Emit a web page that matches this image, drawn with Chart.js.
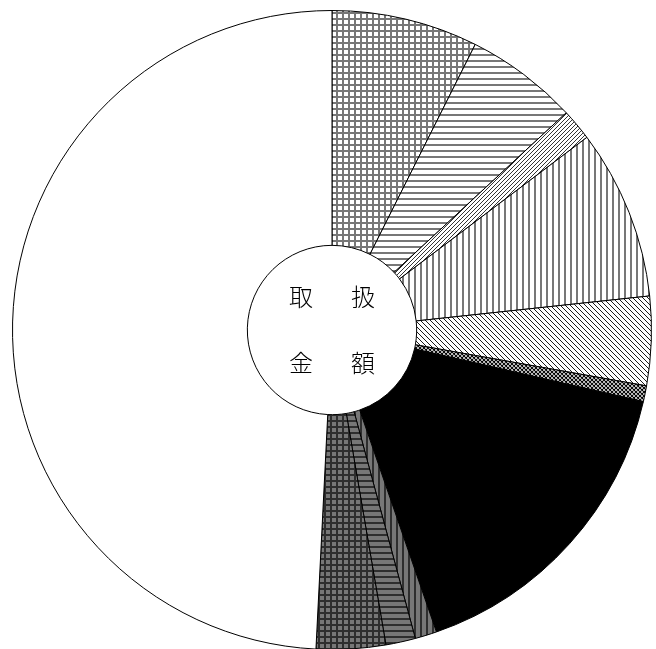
<!DOCTYPE html>
<html>
<head>
<meta charset="utf-8">
<script src="https://cdn.jsdelivr.net/npm/chart.js@4"></script>
<style>
  html, body { margin: 0; padding: 0; background: #fff; overflow: hidden; }
  #wrap { width: 656px; height: 660px; position: relative; }
</style>
</head>
<body>
<div id="wrap"><canvas id="chart"></canvas></div>
<script>
// slice names are not shown in the picture
const labels = ["A", "B", "C", "D", "E", "F", "G", "H", "I", "J", "K"];
// share of total (%), clockwise from 12 o'clock
const values = [7.4, 5.7, 1.6, 8.6, 4.5, 0.8, 16.1, 1.1, 1.5, 3.5, 49.2];
const centerText = [["取", "扱"], ["金", "額"]];

document.addEventListener("DOMContentLoaded", () => {
  function makePattern(size, bg, draw) {
    const c = document.createElement("canvas");
    c.width = size;
    c.height = size;
    const g = c.getContext("2d");
    g.fillStyle = bg;
    g.fillRect(0, 0, size, size);
    draw(g, size);
    return g.createPattern(c, "repeat");
  }

  const gray = "#777777";
  const dark = "#2e2e2e";

  const fills = [
    // grid, gray on white
    makePattern(6, "#fff", (g) => {
      g.fillStyle = gray;
      g.fillRect(0, 0, 2, 6);
      g.fillRect(0, 0, 6, 2);
    }),
    // horizontal lines
    makePattern(6, "#fff", (g) => {
      g.fillStyle = gray;
      g.fillRect(0, 0, 6, 2);
    }),
    // "/" thin black lines
    makePattern(4, "#fff", (g) => {
      g.strokeStyle = "#000";
      g.lineWidth = 0.8;
      g.beginPath();
      g.moveTo(-1, 5); g.lineTo(5, -1);
      g.moveTo(-1, 1); g.lineTo(1, -1);
      g.moveTo(3, 5); g.lineTo(5, 3);
      g.stroke();
    }),
    // vertical lines
    makePattern(6, "#fff", (g) => {
      g.fillStyle = gray;
      g.fillRect(0, 0, 2, 6);
    }),
    // "\" thin black lines
    makePattern(5, "#fff", (g) => {
      g.strokeStyle = "#000";
      g.lineWidth = 0.9;
      g.beginPath();
      g.moveTo(-1, -1); g.lineTo(6, 6);
      g.moveTo(4, -1); g.lineTo(6, 1);
      g.moveTo(-1, 4); g.lineTo(1, 6);
      g.stroke();
    }),
    // diagonal cross hatch, black with white holes
    makePattern(4, "#fff", (g) => {
      g.strokeStyle = "#000";
      g.lineWidth = 1.1;
      g.beginPath();
      g.moveTo(-1, -1); g.lineTo(5, 5);
      g.moveTo(-1, 5); g.lineTo(5, -1);
      g.moveTo(3, -1); g.lineTo(5, 1);
      g.moveTo(-1, 3); g.lineTo(1, 5);
      g.moveTo(-1, 1); g.lineTo(1, -1);
      g.moveTo(3, 5); g.lineTo(5, 3);
      g.stroke();
    }),
    "#000000",
    // gray with dark vertical lines
    makePattern(6, gray, (g) => {
      g.fillStyle = dark;
      g.fillRect(0, 0, 2, 6);
    }),
    // gray with dark horizontal lines
    makePattern(6, gray, (g) => {
      g.fillStyle = dark;
      g.fillRect(0, 0, 6, 2);
    }),
    // gray with dark grid
    makePattern(6, gray, (g) => {
      g.fillStyle = dark;
      g.fillRect(0, 0, 2, 6);
      g.fillRect(0, 0, 6, 2);
    }),
    "#ffffff",
  ];

  const centerLabel = {
    id: "centerLabel",
    afterDraw(chart) {
      const arc = chart.getDatasetMeta(0).data[0];
      const cx = arc.x;
      const cy = arc.y;
      const ctx = chart.ctx;
      ctx.save();
      ctx.fillStyle = "#000";
      ctx.font = '300 24px "Noto Sans CJK JP"';
      ctx.textAlign = "center";
      ctx.textBaseline = "middle";
      const dx = 31, dy = 33;
      ctx.fillText(centerText[0][0], cx - dx, cy - dy);
      ctx.fillText(centerText[0][1], cx + dx, cy - dy);
      ctx.fillText(centerText[1][0], cx - dx, cy + dy);
      ctx.fillText(centerText[1][1], cx + dx, cy + dy);
      ctx.restore();
    },
  };

  const ctx = document.getElementById("chart").getContext("2d");
  new Chart(ctx, {
    type: "doughnut",
    data: {
      labels: labels,
      datasets: [
        {
          data: values,
          backgroundColor: fills,
          borderColor: "#000",
          borderWidth: 1,
          borderAlign: "center",
        },
      ],
    },
    options: {
      responsive: true,
      maintainAspectRatio: false,
      animation: false,
      cutout: "26.5%",
      layout: {
        padding: { left: 12, right: 4, top: 10, bottom: 10 },
      },
      plugins: {
        legend: { display: false },
        tooltip: { enabled: false },
      },
    },
    plugins: [centerLabel],
  });
});
</script>
</body>
</html>
